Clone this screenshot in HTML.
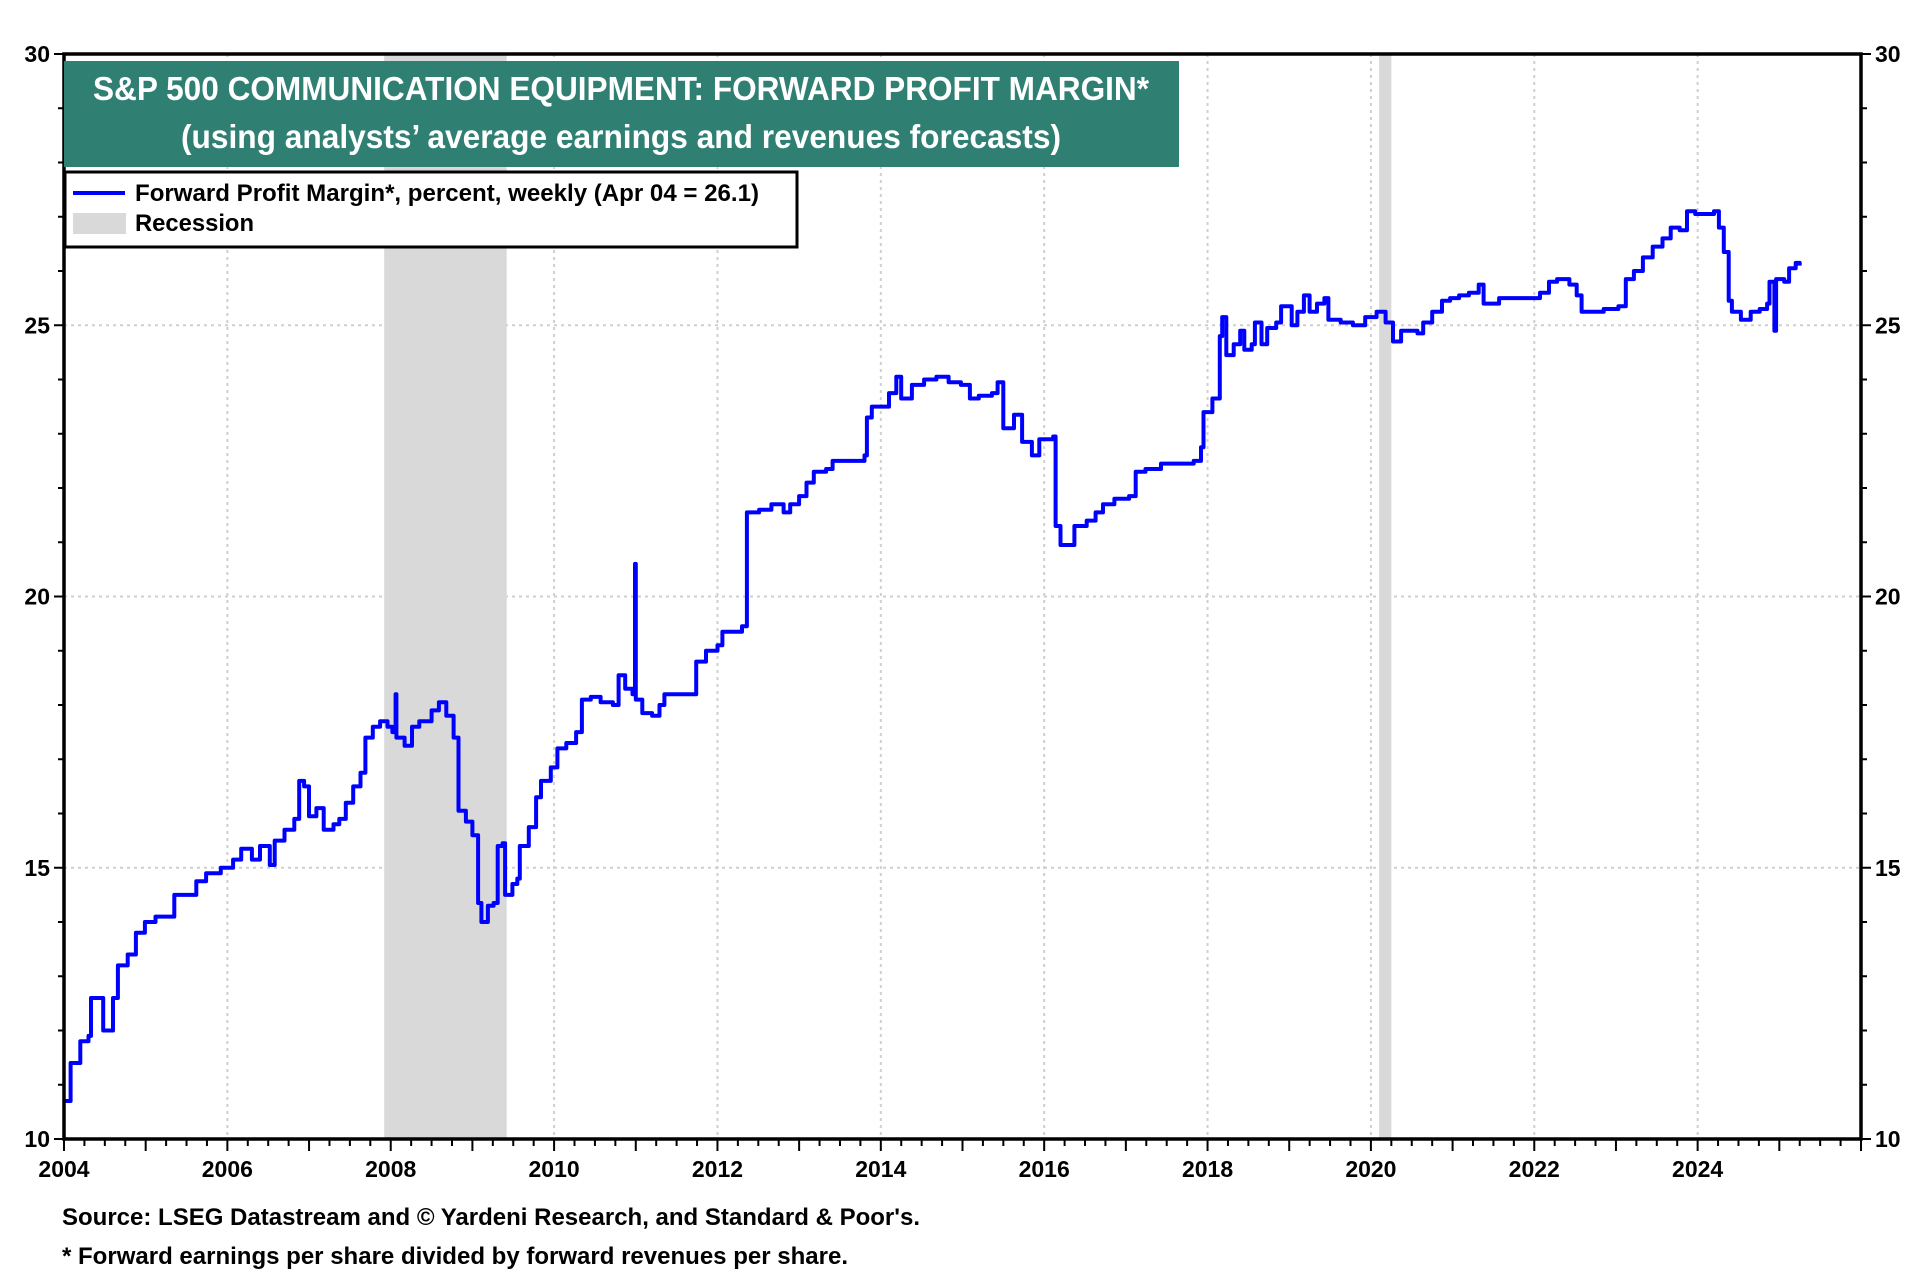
<!DOCTYPE html>
<html><head><meta charset="utf-8"><style>
html,body{margin:0;padding:0;background:#fff;}
svg{display:block;font-family:"Liberation Sans Narrow","Liberation Sans",sans-serif;}
</style></head><body>
<svg id="chart" width="1920" height="1280" viewBox="0 0 1920 1280" xmlns="http://www.w3.org/2000/svg">
<g id="grid"></g>
<g id="rec"></g>
<g id="series"></g>
<g id="axes"></g>
<g>
<rect x="64" y="61" width="1115" height="106" fill="#2f7f73"/>
<text x="621" y="100" text-anchor="middle" fill="#fff" font-size="33" font-weight="bold" textLength="1056" lengthAdjust="spacingAndGlyphs">S&amp;P 500 COMMUNICATION EQUIPMENT: FORWARD PROFIT MARGIN*</text>
<text x="621" y="148" text-anchor="middle" fill="#fff" font-size="33" font-weight="bold" textLength="880" lengthAdjust="spacingAndGlyphs">(using analysts’ average earnings and revenues forecasts)</text>
</g>
<g>
<rect x="65" y="172" width="732" height="75" fill="#fff" stroke="#000" stroke-width="3"/>
<line x1="73" y1="193" x2="125" y2="193" stroke="#0000ff" stroke-width="4"/>
<text x="135" y="201" font-size="24" font-weight="bold" textLength="624" lengthAdjust="spacingAndGlyphs">Forward Profit Margin*, percent, weekly (Apr 04 = 26.1)</text>
<rect x="73" y="213" width="53" height="21" fill="#d9d9d9"/>
<text x="135" y="231" font-size="24" font-weight="bold" textLength="119" lengthAdjust="spacingAndGlyphs">Recession</text>
</g>
<text x="62" y="1225" font-size="24" font-weight="bold" textLength="858" lengthAdjust="spacingAndGlyphs">Source: LSEG Datastream and © Yardeni Research, and Standard &amp; Poor's.</text>
<text x="62" y="1264" font-size="24" font-weight="bold" textLength="786" lengthAdjust="spacingAndGlyphs">* Forward earnings per share divided by forward revenues per share.</text>
</svg>
<script>
const years=[2004,2004.08,2004.081,2004.2,2004.3,2004.33,2004.45,2004.48,2004.57,2004.6,2004.65,2004.66,2004.78,2004.88,2004.99,2005.12,2005.32,2005.35,2005.56,2005.62,2005.74,2005.92,2006.07,2006.17,2006.3,2006.4,2006.52,2006.58,2006.7,2006.82,2006.88,2006.94,2007.0,2007.09,2007.18,2007.3,2007.37,2007.45,2007.54,2007.63,2007.69,2007.78,2007.87,2007.96,2008.02,2008.06,2008.07,2008.17,2008.26,2008.35,2008.5,2008.59,2008.68,2008.77,2008.83,2008.92,2009.0,2009.07,2009.11,2009.19,2009.26,2009.31,2009.37,2009.4,2009.49,2009.55,2009.58,2009.69,2009.78,2009.84,2009.96,2010.04,2010.15,2010.27,2010.34,2010.45,2010.57,2010.72,2010.79,2010.87,2010.96,2010.99,2011.0,2011.08,2011.2,2011.29,2011.35,2011.69,2011.74,2011.86,2012.0,2012.06,2012.21,2012.3,2012.36,2012.51,2012.66,2012.81,2012.89,2013.0,2013.09,2013.18,2013.33,2013.41,2013.56,2013.8,2013.83,2013.89,2014.0,2014.1,2014.19,2014.25,2014.38,2014.53,2014.68,2014.83,2014.98,2015.09,2015.2,2015.36,2015.43,2015.5,2015.63,2015.73,2015.85,2015.94,2016.04,2016.11,2016.14,2016.2,2016.3,2016.37,2016.52,2016.63,2016.72,2016.86,2017.04,2017.12,2017.24,2017.43,2017.61,2017.83,2017.92,2017.95,2018.06,2018.15,2018.18,2018.23,2018.32,2018.4,2018.45,2018.54,2018.58,2018.66,2018.73,2018.84,2018.9,2018.99,2019.03,2019.1,2019.18,2019.25,2019.34,2019.43,2019.48,2019.63,2019.78,2019.93,2020.07,2020.18,2020.27,2020.37,2020.57,2020.64,2020.75,2020.87,2020.97,2021.08,2021.2,2021.32,2021.38,2021.57,2021.78,2021.95,2022.07,2022.18,2022.28,2022.43,2022.52,2022.58,2022.7,2022.85,2023.03,2023.12,2023.22,2023.33,2023.45,2023.57,2023.67,2023.78,2023.87,2023.97,2024.12,2024.2,2024.26,2024.32,2024.38,2024.42,2024.53,2024.65,2024.76,2024.85,2024.88,2024.93,2024.94,2024.96,2025.06,2025.12,2025.2,2025.25];
const margins=[10.7,10.7,11.4,11.8,11.9,12.6,12.6,12.0,12.0,12.6,12.6,13.2,13.4,13.8,14.0,14.1,14.1,14.5,14.5,14.75,14.9,15.0,15.15,15.35,15.15,15.4,15.05,15.5,15.7,15.9,16.6,16.5,15.95,16.1,15.7,15.8,15.9,16.2,16.5,16.75,17.4,17.6,17.7,17.6,17.5,18.2,17.4,17.25,17.6,17.7,17.9,18.05,17.8,17.4,16.05,15.85,15.6,14.35,14.0,14.3,14.35,15.4,15.45,14.5,14.7,14.8,15.4,15.75,16.3,16.6,16.85,17.2,17.3,17.5,18.1,18.15,18.05,18.0,18.55,18.3,18.2,20.6,18.1,17.85,17.8,18.0,18.2,18.2,18.8,19.0,19.1,19.35,19.35,19.45,21.55,21.6,21.7,21.55,21.7,21.85,22.1,22.3,22.35,22.5,22.5,22.6,23.3,23.5,23.5,23.75,24.05,23.65,23.9,24.0,24.05,23.95,23.9,23.65,23.7,23.75,23.95,23.1,23.35,22.85,22.6,22.9,22.9,22.95,21.3,20.95,20.95,21.3,21.4,21.55,21.7,21.8,21.85,22.3,22.35,22.45,22.45,22.5,22.75,23.4,23.65,24.8,25.15,24.45,24.65,24.9,24.55,24.65,25.05,24.65,24.95,25.05,25.35,25.35,25.0,25.25,25.55,25.25,25.4,25.5,25.1,25.05,25.0,25.15,25.25,25.05,24.7,24.9,24.85,25.05,25.25,25.45,25.5,25.55,25.6,25.75,25.4,25.5,25.5,25.5,25.6,25.8,25.85,25.75,25.55,25.25,25.25,25.3,25.35,25.85,26.0,26.25,26.45,26.6,26.8,26.75,27.1,27.05,27.05,27.1,26.8,26.35,25.45,25.25,25.1,25.25,25.3,25.4,25.8,25.8,24.9,25.85,25.8,26.05,26.15,26.1];
const recStart=[2007.92,2020.1];
const recEnd=[2009.42,2020.25];
const xTicks=[2004,2006,2008,2010,2012,2014,2016,2018,2020,2022,2024];
const yTicks=[10,15,20,25,30];

const NS="http://www.w3.org/2000/svg";
const X0=64,X1=1861,T0=2004,T1=2026,Y0=1139,Y1=54,V0=10,V1=30;
function xs(t){return X0+(t-T0)/(T1-T0)*(X1-X0);}
function ys(v){return Y0-(v-V0)/(V1-V0)*(Y0-Y1);}
function mk(tag,attrs,parent){const e=document.createElementNS(NS,tag);for(const k in attrs)e.setAttribute(k,attrs[k]);parent.appendChild(e);return e;}
const grid=document.getElementById('grid'),rec=document.getElementById('rec'),ser=document.getElementById('series'),ax=document.getElementById('axes');

xTicks.slice(1).forEach(t=>{const l=mk('line',{x1:xs(t),x2:xs(t),y1:Y1,y2:Y0,stroke:'#cfcfcf','stroke-width':2,'stroke-dasharray':'3,4'},grid);

});
yTicks.slice(1,-1).forEach(v=>{const l=mk('line',{x1:X0,x2:X1,y1:ys(v),y2:ys(v),stroke:'#cfcfcf','stroke-width':2,'stroke-dasharray':'3,4'},grid);

});

recStart.forEach((s,i)=>{const r=mk('rect',{x:xs(s),y:Y1,width:xs(recEnd[i])-xs(s),height:Y0-Y1,fill:'#d9d9d9'},rec);

});

let d='M'+xs(years[0]).toFixed(1)+','+ys(margins[0]).toFixed(1);
for(let i=1;i<years.length;i++){d+=' H'+xs(years[i]).toFixed(1)+' V'+ys(margins[i]).toFixed(1);}
const pl=mk('path',{d:d,fill:'none',stroke:'#0000ff','stroke-width':4,'stroke-linejoin':'round'},ser);



const fr=mk('rect',{x:X0,y:Y1,width:X1-X0,height:Y0-Y1,fill:'none',stroke:'#000','stroke-width':3.5},ax);


for(let q=T0*4;q<=T1*4;q++){const t=q/4;const major=(q%4===0);
 mk('line',{x1:xs(t),x2:xs(t),y1:Y0,y2:Y0+(major?12:7),stroke:'#000','stroke-width':2},ax);}
for(let v=V0;v<=V1;v++){const len=(v%5===0)?10:6;
 mk('line',{x1:X0-len,x2:X0,y1:ys(v),y2:ys(v),stroke:'#000','stroke-width':2},ax);
 mk('line',{x1:X1,x2:X1+len,y1:ys(v),y2:ys(v),stroke:'#000','stroke-width':2},ax);}
xTicks.forEach(t=>{const e=mk('text',{x:xs(t),y:Y0+38,'text-anchor':'middle','font-size':23,'font-weight':'bold'},ax);e.textContent=t;

});
yTicks.forEach(v=>{const a=mk('text',{x:X0-14,y:ys(v)+8,'text-anchor':'end','font-size':23,'font-weight':'bold'},ax);a.textContent=v;


const b=mk('text',{x:X1+14,y:ys(v)+8,'text-anchor':'start','font-size':23,'font-weight':'bold'},ax);b.textContent=v;

});
</script>
</body></html>
